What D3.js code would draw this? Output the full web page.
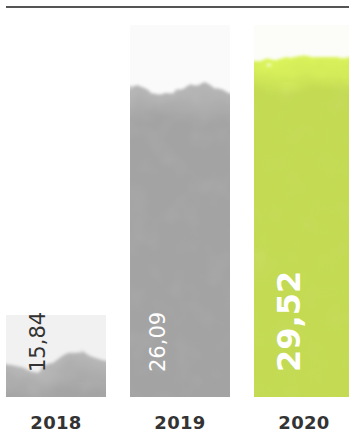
<!DOCTYPE html>
<html>
<head>
<meta charset="utf-8">
<script src="https://cdn.jsdelivr.net/npm/d3@7"></script>
<style>
  html, body { margin: 0; padding: 0; background: #fff; }
  svg { display: block; }
</style>
</head>
<body>
<script>
// Yearly values
const years = ["2018", "2019", "2020"];
const values = [15.84, 26.09, 29.52];
const valueLabels = ["15,84", "26,09", "29,52"];
const colors = ["#a4a4a4", "#a3a3a3", "#c3da52"];
const hazeColors = ["#f1f1f1", "#fafafa", "#fcfdf8"];

const W = 349, H = 437;
const baseY = 397;

const svg = d3.select("body").append("svg")
  .attr("width", W).attr("height", H);

const x = d3.scaleBand().domain(years).range([6, 354]).paddingInner(24 / 124);

// Bar heights: a compressed power scale measured above a baseline value,
// so the smallest year still shows as a low wash
const baseline = 15.8;
const hp = d3.scalePow().exponent(0.37).domain([0, 29.52 - baseline]).range([0, 340]);
const h = v => hp(v - baseline);

const defs = svg.append("defs");

// Watercolour edge filters, one setting per bar
const edge = [
  { seed: 2, freq: "0.016 0.02", scale: 60 },
  { seed: 3, freq: "0.03 0.03", scale: 30 },
  { seed: 11, freq: "0.02 0.03", scale: 34 }
];
edge.forEach((e, i) => {
  const f = defs.append("filter").attr("id", "wc" + i)
    .attr("color-interpolation-filters", "sRGB")
    .attr("x", "-20%").attr("y", "-20%").attr("width", "140%").attr("height", "140%");
  f.append("feTurbulence").attr("type", "fractalNoise")
    .attr("baseFrequency", e.freq)
    .attr("numOctaves", 3).attr("seed", e.seed).attr("result", "noise");
  f.append("feDisplacementMap").attr("in", "SourceGraphic").attr("in2", "noise")
    .attr("scale", e.scale).attr("xChannelSelector", "R").attr("yChannelSelector", "G")
    .attr("result", "disp");
  f.append("feGaussianBlur").attr("in", "disp").attr("stdDeviation", 1.8);
});

// Paper grain inside the wash
const grain = defs.append("filter").attr("id", "grain")
  .attr("color-interpolation-filters", "sRGB")
  .attr("x", 0).attr("y", 0).attr("width", "100%").attr("height", "100%");
grain.append("feTurbulence").attr("type", "fractalNoise")
  .attr("baseFrequency", "0.04").attr("numOctaves", 2).attr("seed", 5);
grain.append("feColorMatrix").attr("type", "matrix")
  .attr("values", "0 0 0 0 1  0 0 0 0 1  0 0 0 0 1  0 0 0 1 -0.45");

// Soft gradient that lightens the top of each wash
years.forEach((y, i) => {
  const top = baseY - h(values[i]);
  const g = defs.append("linearGradient").attr("id", "fade" + i)
    .attr("gradientUnits", "userSpaceOnUse")
    .attr("x1", 0).attr("x2", 0).attr("y1", top - 15).attr("y2", top + 35);
  g.append("stop").attr("offset", 0).attr("stop-color", d3.color(colors[i]).brighter(0.45));
  g.append("stop").attr("offset", 1).attr("stop-color", colors[i]);

  defs.append("clipPath").attr("id", "clip" + i)
    .append("rect")
    .attr("x", x(y)).attr("width", x.bandwidth())
    .attr("y", 0).attr("height", baseY);
});

// Top rule
svg.append("line")
  .attr("x1", 6).attr("x2", W).attr("y1", 7).attr("y2", 7)
  .attr("stroke", "#555").attr("stroke-width", 2);

const hazeTop = [315, 25, 25];

const bars = svg.selectAll("g.bar").data(years).join("g")
  .attr("class", "bar")
  .attr("clip-path", (d, i) => `url(#clip${i})`);

bars.append("rect")
  .attr("x", d => x(d)).attr("width", x.bandwidth())
  .attr("y", (d, i) => hazeTop[i]).attr("height", (d, i) => baseY - hazeTop[i])
  .attr("fill", (d, i) => hazeColors[i]);

bars.append("rect")
  .attr("x", d => x(d) - 30).attr("width", x.bandwidth() + 60)
  .attr("y", (d, i) => baseY - h(values[i]))
  .attr("height", (d, i) => h(values[i]) + 40)
  .attr("fill", (d, i) => `url(#fade${i})`)
  .attr("filter", (d, i) => `url(#wc${i})`);

bars.append("rect")
  .attr("x", d => x(d)).attr("width", x.bandwidth())
  .attr("y", (d, i) => baseY - h(values[i]) + 25)
  .attr("height", (d, i) => Math.max(0, h(values[i]) - 25))
  .attr("filter", "url(#grain)")
  .attr("opacity", 0.12);

// Value labels, rotated
const labelStyle = [
  { fill: "#333", weight: 400, size: 21, dx: 39 },
  { fill: "#fff", weight: 400, size: 21, dx: 35 },
  { fill: "#fff", weight: 700, size: 32, dx: 46 }
];
svg.selectAll("text.val").data(years).join("text")
  .attr("class", "val")
  .attr("transform", (d, i) => `translate(${x(d) + labelStyle[i].dx},372) rotate(-90)`)
  .attr("font-family", "'DejaVu Sans', sans-serif")
  .attr("font-size", (d, i) => labelStyle[i].size)
  .attr("font-weight", (d, i) => labelStyle[i].weight)
  .attr("fill", (d, i) => labelStyle[i].fill)
  .text((d, i) => valueLabels[i]);

// Year labels
svg.selectAll("text.year").data(years).join("text")
  .attr("class", "year")
  .attr("x", d => x(d) + 50)
  .attr("y", 429)
  .attr("text-anchor", "middle")
  .attr("font-family", "'DejaVu Sans', sans-serif")
  .attr("font-weight", 700)
  .attr("font-size", 18)
  .attr("letter-spacing", 0.3)
  .attr("fill", "#333")
  .text(d => d);
</script>
</body>
</html>
